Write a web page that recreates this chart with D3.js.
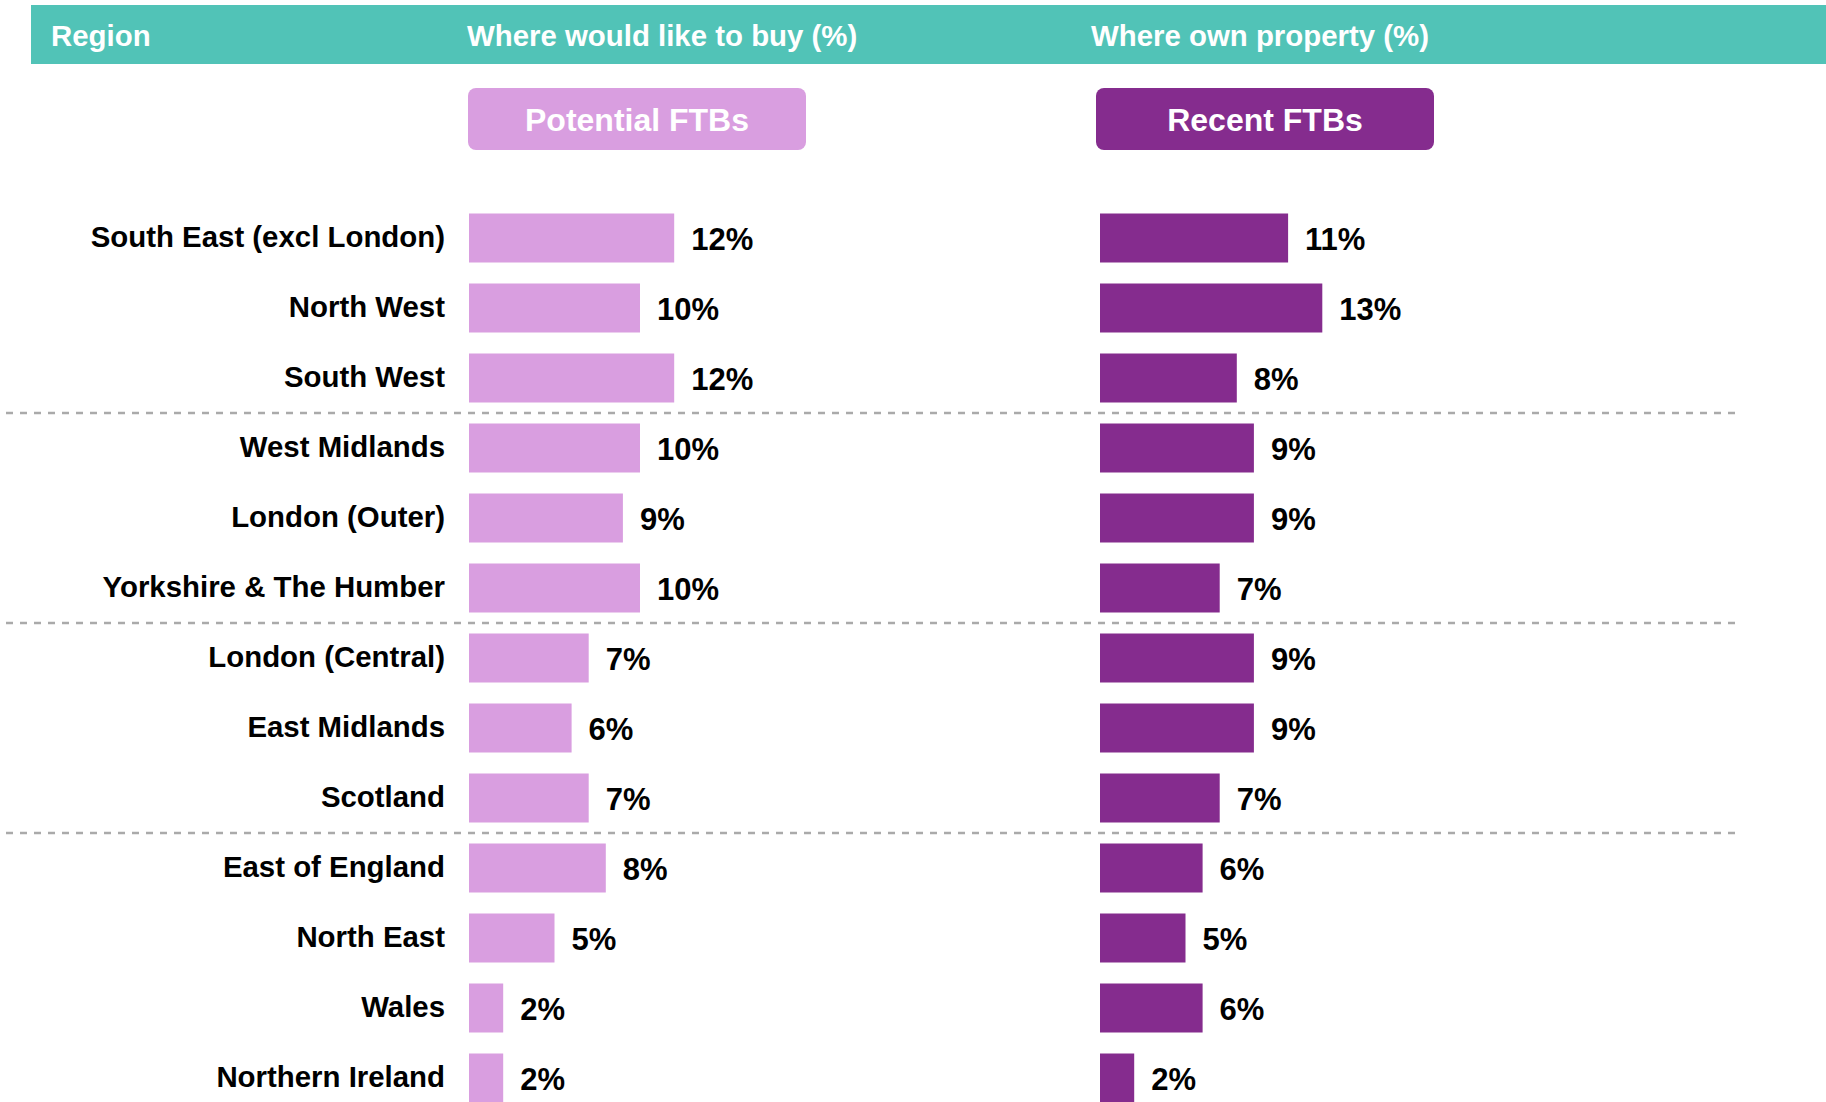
<!DOCTYPE html>
<html>
<head>
<meta charset="utf-8">
<script src="https://cdn.jsdelivr.net/npm/d3@7"></script>
<style>
  body { margin: 0; background: #fff; }
  text { font-family: "Liberation Sans", Arial, sans-serif; font-weight: bold; }
</style>
</head>
<body>
<div id="chart"></div>
<script>
const w = 1826;
const h = 1102;

// data
const regions = [
  'South East (excl London)', 'North West', 'South West',
  'West Midlands', 'London (Outer)', 'Yorkshire & The Humber',
  'London (Central)', 'East Midlands', 'Scotland',
  'East of England', 'North East', 'Wales', 'Northern Ireland'
];
const potentialFTBs = [12, 10, 12, 10, 9, 10, 7, 6, 7, 8, 5, 2, 2];
const recentFTBs = [11, 13, 8, 9, 9, 7, 9, 9, 7, 6, 5, 6, 2];
const headers = ['Region', 'Where would like to buy (%)', 'Where own property (%)'];
const seriesNames = ['Potential FTBs', 'Recent FTBs'];
const groupBreaks = ['South West', 'Yorkshire & The Humber', 'Scotland'];

const teal = '#51c3b7';
const pink = '#d99ee0';
const purple = '#852c8e';

const leftX = 469;
const rightX = 1100;

const svg = d3.select('#chart')
  .append('svg')
  .attr('width', w)
  .attr('height', h);

// scales
const xScale = d3.scaleLinear()
  .domain([0, 10])
  .range([0, 171]);

const yScale = d3.scaleBand()
  .domain(regions)
  .range([203, 203 + 70 * regions.length])
  .paddingInner(0.3)
  .paddingOuter(0.15);

// header band
svg.append('rect')
  .attr('x', 31)
  .attr('y', 5)
  .attr('width', w - 31)
  .attr('height', 59)
  .attr('fill', teal);

svg.selectAll('text.header')
  .data(headers)
  .enter()
  .append('text')
  .attr('class', 'header')
  .attr('x', (d, i) => [51, 467, 1091][i])
  .attr('y', 46)
  .attr('fill', '#fff')
  .style('font-size', '29.4px')
  .text((d) => d);

// series boxes
const boxes = svg.selectAll('g.box')
  .data(seriesNames)
  .enter()
  .append('g')
  .attr('class', 'box')
  .attr('transform', (d, i) => 'translate(' + [468, 1096][i] + ',88)');

boxes.append('rect')
  .attr('width', 338)
  .attr('height', 62)
  .attr('rx', 8)
  .attr('fill', (d, i) => [pink, purple][i]);

boxes.append('text')
  .attr('x', 169)
  .attr('y', 43)
  .attr('text-anchor', 'middle')
  .attr('fill', '#fff')
  .style('font-size', '32px')
  .text((d) => d);

// dashed separators
svg.selectAll('line.sep')
  .data(groupBreaks)
  .enter()
  .append('line')
  .attr('class', 'sep')
  .attr('x1', 6)
  .attr('x2', 1738)
  .attr('y1', (d) => yScale(d) + yScale.bandwidth() + yScale.step() * yScale.paddingInner() / 2)
  .attr('y2', (d) => yScale(d) + yScale.bandwidth() + yScale.step() * yScale.paddingInner() / 2)
  .attr('stroke', '#aaaaaa')
  .attr('stroke-width', 2.5)
  .attr('stroke-dasharray', '7 7');

// region labels
svg.selectAll('text.region')
  .data(regions)
  .enter()
  .append('text')
  .attr('class', 'region')
  .attr('x', 445)
  .attr('y', (d) => yScale(d) + yScale.bandwidth() / 2 + 9)
  .attr('text-anchor', 'end')
  .attr('fill', '#000')
  .style('font-size', '29.4px')
  .text((d) => d);

// bars
function drawSeries(values, x0, color, cls) {
  svg.selectAll('rect.' + cls)
    .data(values)
    .enter()
    .append('rect')
    .attr('class', cls)
    .attr('x', x0)
    .attr('y', (d, i) => yScale(regions[i]))
    .attr('width', (d) => xScale(d))
    .attr('height', yScale.bandwidth())
    .attr('fill', color);

  svg.selectAll('text.' + cls)
    .data(values)
    .enter()
    .append('text')
    .attr('class', cls)
    .attr('x', (d) => x0 + xScale(d) + 17)
    .attr('y', (d, i) => yScale(regions[i]) + yScale.bandwidth() / 2 + 12)
    .attr('fill', '#000')
    .style('font-size', '31px')
    .text((d) => d + '%');
}

drawSeries(potentialFTBs, leftX, pink, 'potential');
drawSeries(recentFTBs, rightX, purple, 'recent');
</script>
</body>
</html>
